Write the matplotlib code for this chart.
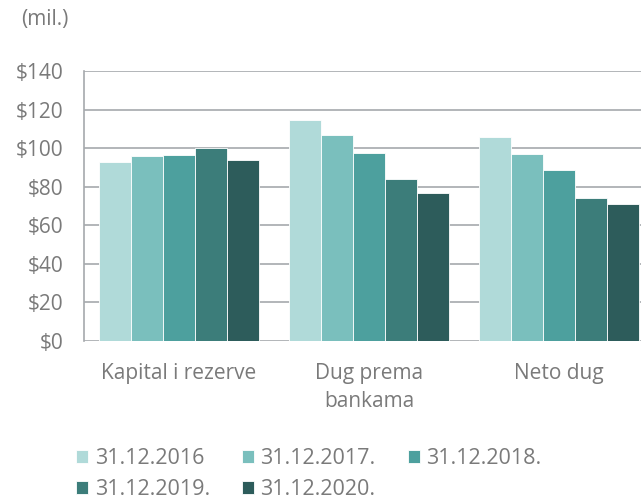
import numpy as np
import matplotlib.pyplot as plt

plt.rcParams['font.family'] = ['Open Sans', 'DejaVu Sans']

categories = ['Kapital i rezerve', 'Dug prema\nbankama', 'Neto dug']
series = ['31.12.2016', '31.12.2017.', '31.12.2018.', '31.12.2019.', '31.12.2020.']
values = [
    [92.8, 114.6, 105.9],
    [95.9, 106.8, 96.8],
    [96.4, 97.3, 88.6],
    [100.0, 84.0, 74.0],
    [93.8, 76.6, 71.0],
]
colors = ['#B0DAD9', '#7ABFBD', '#4DA09E', '#3C7D7A', '#2D5C5B']
ticks = [0, 20, 40, 60, 80, 100, 120, 140]

text_color = '#7A7A7A'
grid_color = '#A6A9AD'

fig = plt.figure(figsize=(6.41, 5.0), dpi=100)
ax = fig.add_axes([84 / 641, 1 - 341 / 500, 570 / 641, 270 / 500])

x = np.arange(len(categories))
group_w = 0.847
bw = group_w / len(series)
handles = []
for i, (name, vals) in enumerate(zip(series, values)):
    pos = x - group_w / 2 + bw * (i + 0.5)
    b = ax.bar(pos, vals, width=bw, color=colors[i], edgecolor='white',
               linewidth=0.6, label=name, zorder=3)
    handles.append(b)

ax.set_xlim(-0.5, len(categories) - 0.5)
ax.set_ylim(0, 140)
ax.set_yticks(ticks)
ax.set_yticklabels([f'${t}' for t in ticks])
ax.set_xticks(x)
ax.set_xticklabels(categories, linespacing=1.45)
ax.yaxis.grid(True, color=grid_color, linewidth=1.2, zorder=0)
ax.tick_params(axis='both', length=0, labelsize=15, colors=text_color)
ax.tick_params(axis='y', pad=15)
ax.tick_params(axis='x', pad=16)
for s in ['top', 'right', 'bottom']:
    ax.spines[s].set_visible(False)
ax.spines['left'].set_color(grid_color)
ax.spines['left'].set_linewidth(1.2)

fig.text(21 / 641, 1 - 19 / 500, '(mil.)', fontsize=15, color=text_color, va='center')

order = [0, 3, 1, 4, 2]
leg = fig.legend([handles[k] for k in order], [series[k] for k in order],
                 ncol=3, loc='upper left', bbox_to_anchor=(57 / 641, 1 - 429 / 500),
                 frameon=False, fontsize=15.5, handlelength=0.55, handleheight=0.55,
                 handletextpad=0.3, columnspacing=1.5, labelspacing=0.45,
                 labelcolor=text_color)

fig.savefig('out.png', dpi=100)
